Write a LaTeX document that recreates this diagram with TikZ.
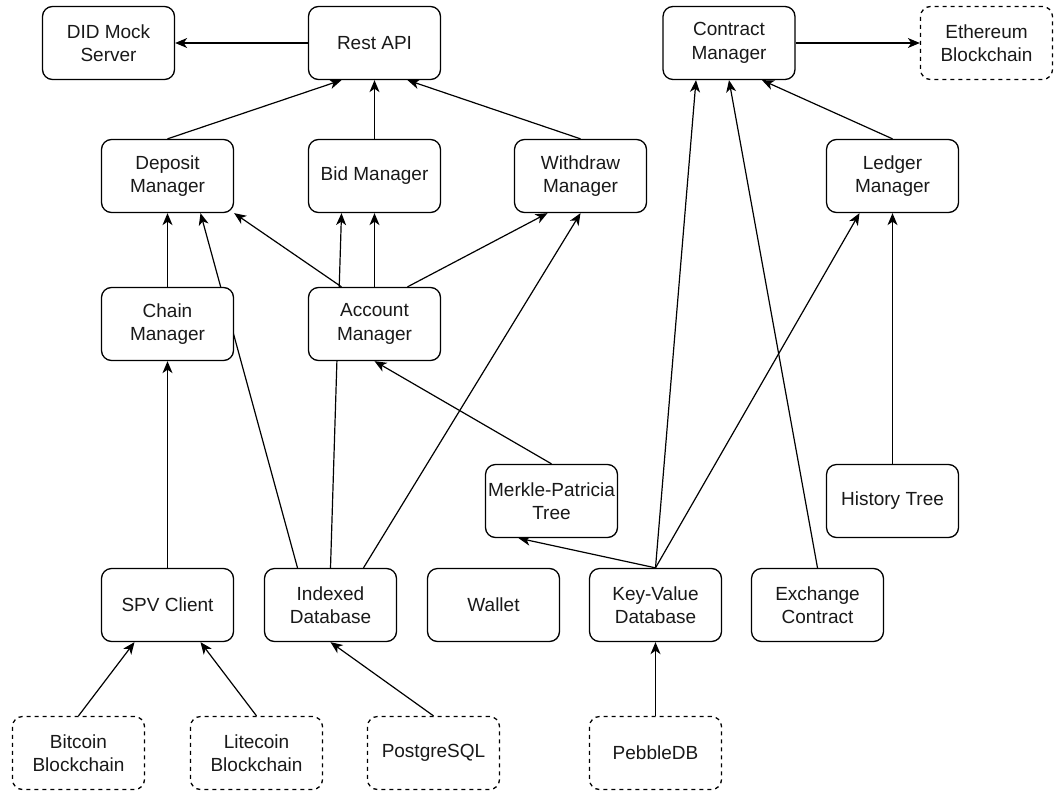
\documentclass[tikz,border=0pt]{standalone}
\usepackage{fontspec}
\setmainfont{Liberation Sans}
\usetikzlibrary{arrows.meta,calc}
\pgfdeclarelayer{background}
\pgfsetlayers{background,main}
\begin{document}
\begin{tikzpicture}[x=1pt,y=-1pt,
  box/.style={draw=black,fill=white,line width=1.3pt,rounded corners=10pt,
    minimum width=132pt,minimum height=73pt,inner sep=0pt,align=center,
    font=\fontsize{19}{23.5}\selectfont,text=black!90},
  extbox/.style={box,dashed,dash pattern=on 4pt off 4pt},
  arr/.style={line width=1.2pt,-{Stealth[length=12pt,width=10pt,inset=3.5pt]}}]
\useasboundingbox (0,0) rectangle (1056,792);

% top row
\node[box] (did) at (108.5,43) {DID Mock\\Server};
\node[box] (rest) at (374.5,43) {Rest API};
\node[box] (cm) at (729,43) {Contract\\Manager};
\node[extbox] (eth) at (986.5,43) {Ethereum\\Blockchain};

% managers
\node[box] (dep) at (167.5,176) {Deposit\\Manager};
\node[box] (bid) at (374.5,176) {Bid Manager};
\node[box] (wd) at (580.5,176) {Withdraw\\Manager};
\node[box] (lm) at (892.5,176) {Ledger\\Manager};
\node[box] (chain) at (167.5,324) {Chain\\Manager};
\node[box] (acc) at (374.5,324) {Account\\Manager};

% trees
\node[box] (mpt) at (551.5,501) {Merkle-Patricia\\Tree};
\node[box] (ht) at (892.5,501) {History Tree};

% storage and clients
\node[box] (spv) at (167.5,605) {SPV Client};
\node[box] (idx) at (330.5,605) {Indexed\\Database};
\node[box] (wal) at (493.5,605) {Wallet};
\node[box] (kv) at (655.5,605) {Key-Value\\Database};
\node[box] (ex) at (817.5,605) {Exchange\\Contract};

% external systems
\node[extbox] (btc) at (78.5,753) {Bitcoin\\Blockchain};
\node[extbox] (ltc) at (256.5,753) {Litecoin\\Blockchain};
\node[extbox] (pg) at (433.5,753) {PostgreSQL};
\node[extbox] (peb) at (655.5,753) {PebbleDB};

\begin{pgfonlayer}{background}
\draw[arr] (rest.west) -- (did.east);
\draw[arr] (dep.north) -- ([xshift=-33pt]rest.south);
\draw[arr] (bid.north) -- (rest.south);
\draw[arr] (wd.north) -- ([xshift=33pt]rest.south);
\draw[arr] (cm.east) -- (eth.west);

\draw[arr] (chain.north) -- (dep.south);
\draw[arr] ([xshift=-33pt]idx.north) -- ([xshift=33pt]dep.south);
\draw[arr] ([xshift=-33pt]acc.north) -- (dep.south east);
\draw[arr] (idx.north) -- ([xshift=-33pt]bid.south);
\draw[arr] (acc.north) -- (bid.south);
\draw[arr] ([xshift=33pt]acc.north) -- ([xshift=-33pt]wd.south);
\draw[arr] ([xshift=33pt]idx.north) -- (wd.south);

\draw[arr] (mpt.north) -- (acc.south);
\draw[arr] (kv.north) -- ([xshift=-33pt]mpt.south);
\draw[arr] (kv.north) -- ([xshift=-33pt]cm.south);
\draw[arr] (kv.north) -- ([xshift=-33pt]lm.south);
\draw[arr] (ex.north) -- (cm.south);
\draw[arr] (lm.north) -- ([xshift=33pt]cm.south);
\draw[arr] (ht.north) -- (lm.south);

\draw[arr] (spv.north) -- (chain.south);
\draw[arr] (btc.north) -- ([xshift=-33pt]spv.south);
\draw[arr] (ltc.north) -- ([xshift=33pt]spv.south);
\draw[arr] (pg.north) -- (idx.south);
\draw[arr] (peb.north) -- (kv.south);
\end{pgfonlayer}
\end{tikzpicture}
\end{document}
